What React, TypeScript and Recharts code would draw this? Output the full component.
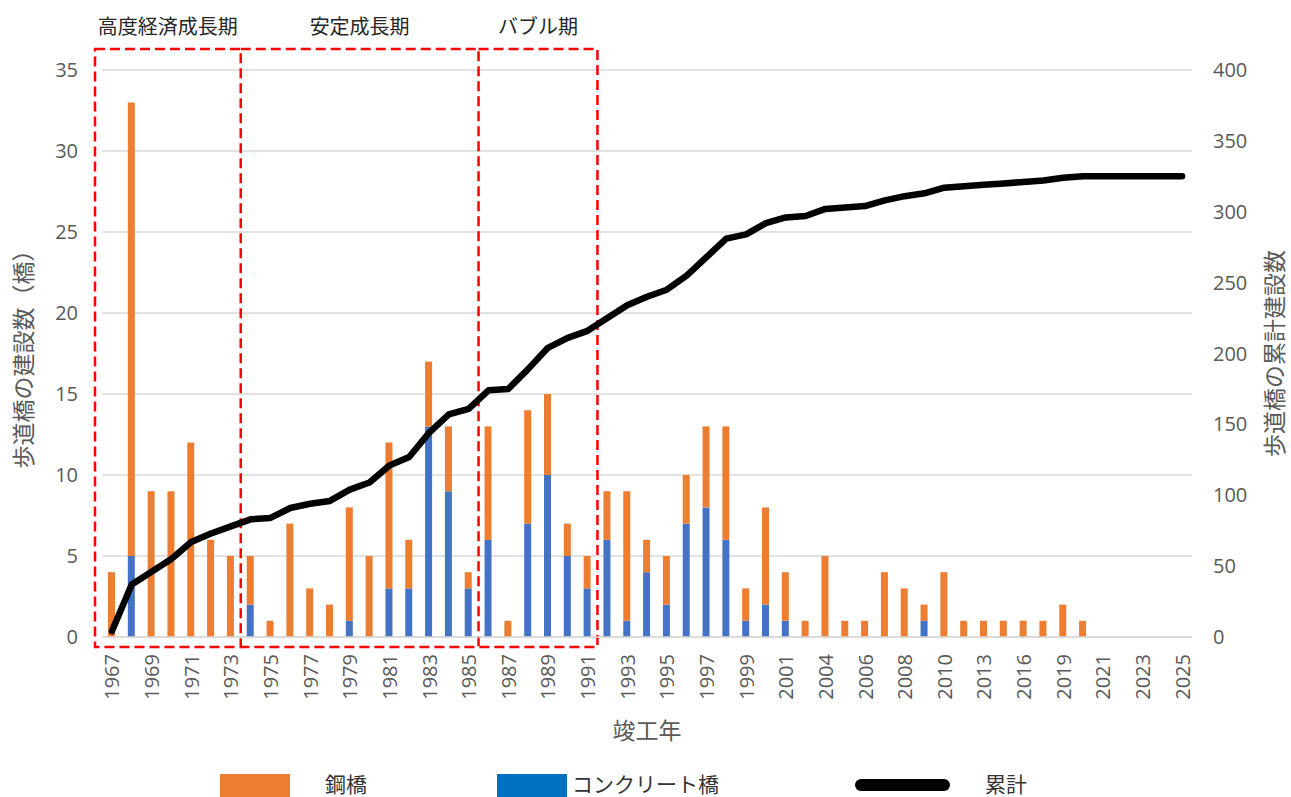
import {
  ComposedChart,
  Bar,
  Line,
  XAxis,
  YAxis,
  CartesianGrid,
  ReferenceArea,
} from "recharts";

const YEARS = [
  "1967", "1968", "1969", "1970", "1971", "1972", "1973", "1974", "1975", "1976",
  "1977", "1978", "1979", "1980", "1981", "1982", "1983", "1984", "1985", "1986",
  "1987", "1988", "1989", "1990", "1991", "1992", "1993", "1994", "1995", "1996",
  "1997", "1998", "1999", "2000", "2001", "2002", "2004", "2005", "2006", "2007",
  "2008", "2009", "2010", "2011", "2013", "2014", "2016", "2017", "2019", "2020",
  "2021", "2022", "2023", "2024", "2025",
];

// 鋼橋
const STEEL = [
  4, 28, 9, 9, 12, 6, 5, 3, 1, 7,
  3, 2, 7, 5, 9, 3, 4, 4, 1, 7,
  1, 7, 5, 2, 2, 3, 8, 2, 3, 3,
  5, 7, 2, 6, 3, 1, 5, 1, 1, 4,
  3, 1, 4, 1, 1, 1, 1, 1, 2, 1,
  0, 0, 0, 0, 0,
];

// コンクリート橋
const CONCRETE = [
  0, 5, 0, 0, 0, 0, 0, 2, 0, 0,
  0, 0, 1, 0, 3, 3, 13, 9, 3, 6,
  0, 7, 10, 5, 3, 6, 1, 4, 2, 7,
  8, 6, 1, 2, 1, 0, 0, 0, 0, 0,
  0, 1, 0, 0, 0, 0, 0, 0, 0, 0,
  0, 0, 0, 0, 0,
];

// 累計
const CUMULATIVE = [
  4, 37, 46, 55, 67, 73, 78, 83, 84, 91,
  94, 96, 104, 109, 121, 127, 144, 157, 161, 174,
  175, 189, 204, 211, 216, 225, 234, 240, 245, 255,
  268, 281, 284, 292, 296, 297, 302, 303, 304, 308,
  311, 313, 317, 318, 319, 320, 321, 322, 324, 325,
  325, 325, 325, 325, 325,
];

const LEFT_TICKS = [0, 5, 10, 15, 20, 25, 30, 35];
const RIGHT_TICKS = [0, 50, 100, 150, 200, 250, 300, 350, 400];

const PERIODS = [
  { label: "高度経済成長期", from: "1967", to: "1973" },
  { label: "安定成長期", from: "1974", to: "1985" },
  { label: "バブル期", from: "1986", to: "1991" },
];

const data = YEARS.map((year, i) => ({
  year,
  steel: STEEL[i],
  concrete: CONCRETE[i],
  total: CUMULATIVE[i],
}));

const FONT = '"Open Sans", "Noto Sans CJK JP", sans-serif';
const JP_FONT = '"Noto Sans CJK JP", sans-serif';
const GRAY = "#595959";
const ORANGE = "#ED7D31";
const BLUE = "#4472C4";

const YearTick = (props: any) => {
  const { x, y, payload } = props;
  return (
    <text
      x={x}
      y={y}
      transform={`rotate(-90, ${x}, ${y})`}
      textAnchor="end"
      dominantBaseline="central"
      fill={GRAY}
      fontSize={20}
      fontFamily={FONT}
    >
      {payload.value}
    </text>
  );
};

// dashed frame around a period; later frames share their left edge with the previous one
const periodBox = (label: string, first: boolean) => (props: any) => {
  const { x, y, width, height } = props;
  const left = first ? x - 7 : x;
  const right = x + width;
  const top = y - 21;
  const bottom = y + height + 10;
  const d = first
    ? `M${left},${top} H${right} V${bottom} H${left} Z`
    : `M${left},${top} H${right} V${bottom} H${left}`;
  return (
    <g>
      <path
        d={d}
        fill="none"
        stroke="#FF0000"
        strokeWidth={2.5}
        strokeDasharray="10 5"
      />
      <text
        x={(left + right) / 2}
        y={top - 24}
        textAnchor="middle"
        dominantBaseline="central"
        fontSize={20}
        fontFamily={JP_FONT}
        fill="#262626"
      >
        {label}
      </text>
    </g>
  );
};

const LEGEND = [
  { name: "鋼橋", color: ORANGE, kind: "bar" },
  { name: "コンクリート橋", color: "#0070C0", kind: "bar" },
  { name: "累計", color: "#000000", kind: "line" },
];
const LEGEND_X = [220, 497, 855];
const LEGEND_TEXT_X = [325, 572, 985];

export default function App() {
  return (
    <div
      style={{
        position: "absolute",
        left: 0,
        top: 0,
        width: 1291,
        height: 797,
        background: "#fff",
        overflow: "hidden",
        fontFamily: FONT,
      }}
    >
      <ComposedChart
        width={1291}
        height={797}
        data={data}
        margin={{ top: 70, right: 0, bottom: 50, left: 0 }}
        barSize={7}
      >
        <CartesianGrid
          yAxisId="left"
          vertical={false}
          stroke="#D9D9D9"
          strokeWidth={1.5}
        />
        <XAxis
          dataKey="year"
          interval={1}
          tickLine={false}
          tickSize={0}
          tickMargin={17}
          axisLine={{ stroke: "#D9D9D9", strokeWidth: 1.5 }}
          tick={<YearTick />}
          height={110}
          label={{
            value: "竣工年",
            position: "insideBottom",
            offset: 8,
            style: { fontSize: 23, fill: GRAY, fontFamily: JP_FONT },
          }}
        />
        <YAxis
          yAxisId="left"
          width={102}
          domain={[0, 35]}
          ticks={LEFT_TICKS}
          tickLine={false}
          axisLine={false}
          tickSize={0}
          tickMargin={24}
          tick={{ fill: GRAY, fontSize: 20, fontFamily: FONT }}
          label={{
            value: "歩道橋の建設数（橋）",
            angle: -90,
            position: "insideLeft",
            offset: 24,
            style: { textAnchor: "middle", fontSize: 23, fill: GRAY, fontFamily: JP_FONT },
          }}
        />
        <YAxis
          yAxisId="right"
          orientation="right"
          width={99}
          domain={[0, 400]}
          ticks={RIGHT_TICKS}
          tickLine={false}
          axisLine={false}
          tickSize={0}
          tickMargin={21}
          tick={{ fill: GRAY, fontSize: 20, fontFamily: FONT, textAnchor: "start" }}
          label={{
            value: "歩道橋の累計建設数",
            angle: -90,
            position: "insideRight",
            offset: 16,
            style: { textAnchor: "middle", fontSize: 23, fill: GRAY, fontFamily: JP_FONT },
          }}
        />
        <Bar
          yAxisId="left"
          dataKey="concrete"
          name="コンクリート橋"
          stackId="a"
          fill={BLUE}
          isAnimationActive={false}
        />
        <Bar
          yAxisId="left"
          dataKey="steel"
          name="鋼橋"
          stackId="a"
          fill={ORANGE}
          isAnimationActive={false}
        />
        <Line
          yAxisId="right"
          dataKey="total"
          name="累計"
          type="linear"
          stroke="#000"
          strokeWidth={6.5}
          strokeLinecap="round"
          strokeLinejoin="round"
          dot={false}
          activeDot={false}
          isAnimationActive={false}
        />
        {PERIODS.map((p, i) => (
          <ReferenceArea
            key={p.label}
            yAxisId="left"
            x1={p.from}
            x2={p.to}
            y1={0}
            y2={35}
            ifOverflow="visible"
            shape={periodBox(p.label, i === 0)}
          />
        ))}
      </ComposedChart>
      {LEGEND.map((item, i) => (
        <div key={item.name}>
          <div
            style={{
              position: "absolute",
              left: LEGEND_X[i],
              top: item.kind === "bar" ? 774 : 779,
              width: item.kind === "bar" ? 70 : 95,
              height: item.kind === "bar" ? 23 : 12,
              background: item.color,
              borderRadius: item.kind === "bar" ? 0 : 6,
            }}
          />
          <div
            style={{
              position: "absolute",
              left: LEGEND_TEXT_X[i],
              top: 770,
              fontSize: 21,
              lineHeight: "27px",
              color: "#333",
              fontFamily: JP_FONT,
              whiteSpace: "nowrap",
            }}
          >
            {item.name}
          </div>
        </div>
      ))}
    </div>
  );
}
